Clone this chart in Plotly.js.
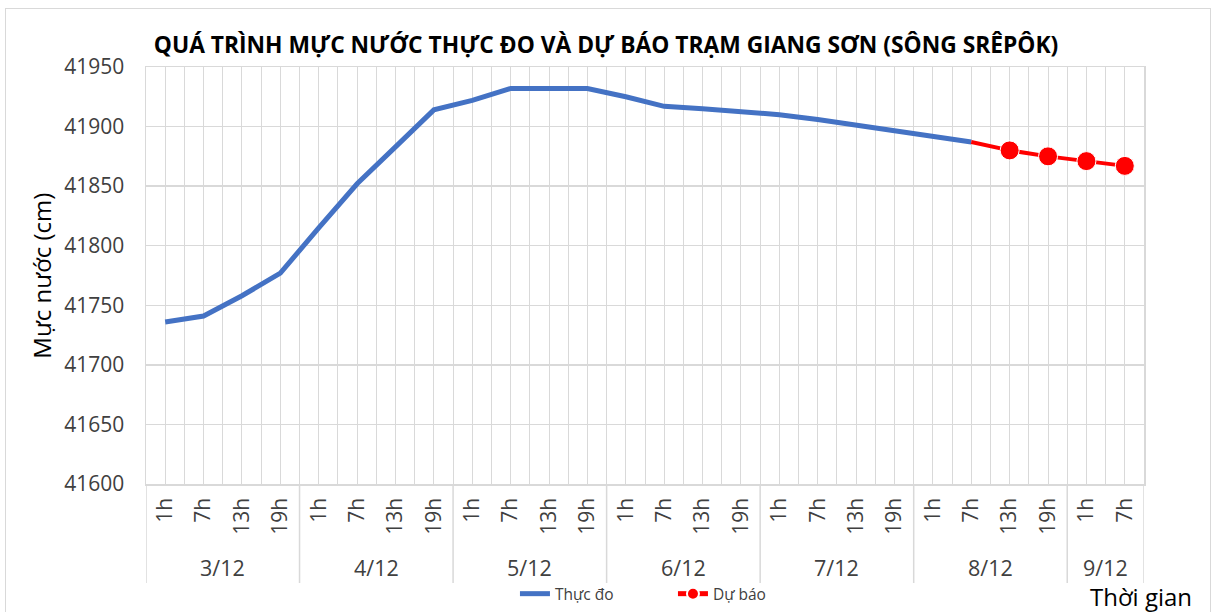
<!DOCTYPE html>
<html><head><meta charset="utf-8">
<script src="https://cdn.plot.ly/plotly-3.0.1.min.js"></script>
<style>
body{margin:0;background:#fff;}
#wrap{position:absolute;left:5px;top:8px;width:1206px;height:610px;border:1px solid #d9d9d9;border-bottom:none;box-sizing:border-box;}
#chart{width:1203px;height:603px;}
</style>
</head><body><div id="wrap"><div id="chart"></div></div>
<script>
// Categories
const dayLabels = ['3/12','3/12','3/12','3/12','4/12','4/12','4/12','4/12','5/12','5/12','5/12','5/12',
  '6/12','6/12','6/12','6/12','7/12','7/12','7/12','7/12','8/12','8/12','8/12','8/12','9/12','9/12'];
const hourLabels = ['1h','7h','13h','19h','1h','7h','13h','19h','1h','7h','13h','19h',
  '1h','7h','13h','19h','1h','7h','13h','19h','1h','7h','13h','19h','1h','7h'];
// Series
const measured = [41736,41741,41758,41777,41815,41852,41883,41914,41922,41932,41932,41932,
  41925,41917,41915,41913,41910,41906,41901,41897,41892,41887];
const forecast = [41887,41880,41875,41871,41867];
const forecastStart = 21;
const yTicks = [41600,41650,41700,41750,41800,41850,41900,41950];
const yTickText = ['41600','41650','41700','41750','41800','41850','41900','41950'];

const idx = hourLabels.map((_,i)=>i);
const measX = measured.map((_,i)=>i);
const fcX = forecast.map((_,i)=>i+forecastStart);

const F = '"Open Sans", "Noto Sans", sans-serif';
const grid = '#d9d9d9';

// groups
const groups = [];
dayLabels.forEach((d,i)=>{
  if(!groups.length || groups[groups.length-1].label!==d) groups.push({label:d,start:i,end:i});
  else groups[groups.length-1].end=i;
});

const annotations = groups.map(g=>({
  text:g.label, x:(g.start+g.end)/2, xref:'x', y:-0.2014, yref:'paper',
  showarrow:false, xanchor:'center', yanchor:'middle', font:{family:F,size:21.5,color:'#404040'}
}));
annotations.push({text:'Mực nước (cm)', x:-0.105, xref:'paper', y:0.5, yref:'paper', textangle:-90,
  showarrow:false, xanchor:'center', yanchor:'middle', font:{family:F,size:24,color:'#000'}});
annotations.push({text:'Thời gian', x:0.997, xref:'paper', y:-0.2686, yref:'paper',
  showarrow:false, xanchor:'center', yanchor:'middle', font:{family:F,size:24,color:'#000'}});

const bounds = [groups[0].start-0.5].concat(groups.map(g=>g.end+0.5));
const shapes = bounds.map(b=>({type:'line', xref:'x', yref:'paper', x0:b, x1:b, y0:0, y1:-0.2374,
  line:{color:grid,width:1.5}}));

const traces = [
  {x:measX, y:measured, type:'scatter', mode:'lines', name:'Thực đo',
   line:{color:'#4472C4', width:5}},
  {x:fcX, y:forecast, type:'scatter', mode:'lines+markers', name:'Dự báo',
   line:{color:'#FF0000', width:4},
   marker:{color:'#FF0000', opacity:1, size:forecast.map((_,i)=>i===0?0:19)}}
];

const layout = {
  width:1203, height:603,
  margin:{l:140, r:65, t:58, b:128, autoexpand:false},
  paper_bgcolor:'#fff', plot_bgcolor:'#fff',
  title:{text:'QUÁ TRÌNH MỰC NƯỚC THỰC ĐO VÀ DỰ BÁO TRẠM GIANG SƠN (SÔNG SRÊPÔK)',
    font:{family:F,size:22.8,color:'#000',weight:700}, x:0.4988, xanchor:'center',
    y:0.94, yref:'container', yanchor:'middle'},
  xaxis:{range:[-0.5, idx.length-0.5], tickmode:'array', tickvals:idx, ticktext:hourLabels,
    tickangle:-90, showgrid:true, gridcolor:grid, gridwidth:1, zeroline:false,
    showline:true, linecolor:grid, linewidth:1.5, mirror:true, automargin:false,
    ticks:'outside', ticklen:4, tickcolor:'rgba(0,0,0,0)',
    tickfont:{family:F,size:21,color:'#404040'},
    minor:{tickmode:'linear', tick0:-0.5, dtick:1, showgrid:true, gridcolor:grid, gridwidth:1, ticks:''}},
  yaxis:{range:[41600,41950], tickmode:'array', tickvals:yTicks, ticktext:yTickText,
    showgrid:true, gridcolor:grid, gridwidth:1.5, automargin:false,
    zeroline:false, showline:true, linecolor:grid, linewidth:1.5, mirror:true,
    ticks:'outside', ticklen:16, tickcolor:'rgba(0,0,0,0)',
    tickfont:{family:F,size:21,color:'#404040'}},
  showlegend:true,
  legend:{orientation:'h', x:0.3697, xanchor:'left', y:-0.264, yanchor:'middle',
    itemsizing:'constant', entrywidth:113, entrywidthmode:'pixels',
    font:{family:F,size:15.5,color:'#404040'}, bgcolor:'rgba(0,0,0,0)'},
  annotations:annotations,
  shapes:shapes
};

Plotly.newPlot('chart', traces, layout, {displayModeBar:false, staticPlot:true});
</script>
</body></html>
